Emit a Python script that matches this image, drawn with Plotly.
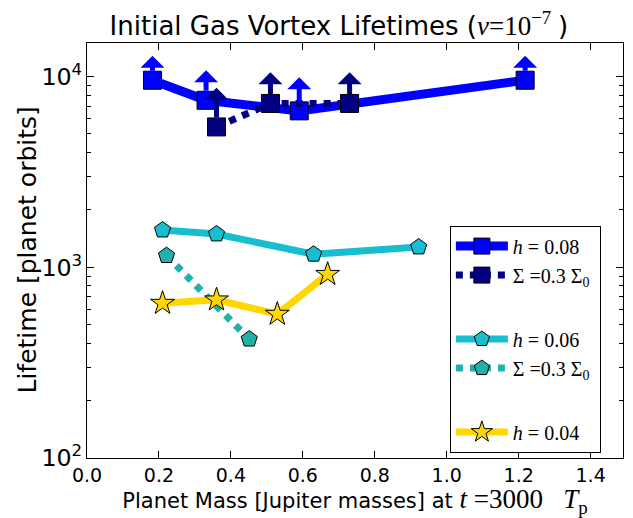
import numpy as np
import plotly.graph_objects as go

# ---------------- data ----------------
mass_h08 = [0.182, 0.331, 0.590, 1.218]
life_h08 = [9570, 7510, 6610, 9570]

mass_h08_low = [0.360, 0.510, 0.730]
life_h08_low = [5445, 7230, 7230]

mass_h06 = [0.210, 0.360, 0.630, 0.922]
life_h06 = [1567, 1494, 1170, 1277]

mass_h06_low = [0.221, 0.451]
life_h06_low = [1151, 420]

mass_h04 = [0.210, 0.360, 0.529, 0.669]
life_h04 = [648, 675, 568, 919]

# lower-limit arrow length (data units, like an errorbar with lolims)
LOWER_LIMIT_ERR = 3300

x_ticks = [0.0, 0.2, 0.4, 0.6, 0.8, 1.0, 1.2, 1.4]

SERIF = "Liberation Serif"
SANS = "DejaVu Sans"
NB = "\u00a0"

fig = go.Figure()

def add(xs, ys, name, color, lw, dash, symbol, msize, group):
    fig.add_trace(go.Scatter(
        x=xs, y=ys, name=name, mode="lines+markers",
        legendgroup=group,
        line=dict(color=color, width=lw, dash=dash),
        marker=dict(symbol=symbol, size=msize, color=color,
                    line=dict(color="black", width=1)),
    ))

add(mass_h08, life_h08, "<i>h</i> = 0.08", "#0000FF", 9, "solid", "square", 18, "g1")
add(mass_h08_low, life_h08_low, "Σ =0.3 Σ<sub>0</sub>" + NB, "#000080", 7, "7px,7px", "square", 18, "g1")
add(mass_h06, life_h06, "<i>h</i> = 0.06", "#17BECF", 7, "solid", "pentagon", 17, "g2")
add(mass_h06_low, life_h06_low, "Σ =0.3 Σ<sub>0</sub>" + NB, "#20B2AA", 7, "7px,7px", "pentagon", 17, "g2")
add(mass_h04, life_h04, "<i>h</i> = 0.04", "#FFD700", 7, "solid", "star", 18, "g3")

annotations = []
for xs, ys, color in [(mass_h08, life_h08, "#0000FF"),
                      (mass_h08_low, life_h08_low, "#000080")]:
    for xv, yv in zip(xs, ys):
        annotations.append(dict(
            x=xv, y=float(np.log10(yv + LOWER_LIMIT_ERR)),
            ax=xv, ay=float(np.log10(yv)),
            xref="x", yref="y", axref="x", ayref="y",
            text="", showarrow=True, arrowhead=1, arrowsize=0.8,
            arrowwidth=5, arrowcolor=color, startstandoff=8, standoff=0))

# y-axis title, placed like the reference (closer to the tick labels)
annotations.append(dict(
    text="Lifetime [planet orbits]", textangle=-90,
    x=0, xref="paper", xanchor="center", xshift=-60,
    y=0.5, yref="paper", yanchor="middle", showarrow=False,
    font=dict(family=SANS, size=25, color="black")))

# the page body adds an 8px offset, so the figure is 8px smaller each way
fig.update_layout(
    width=625, height=510,
    margin=dict(l=79, r=10, t=35, b=60, autoexpand=False),
    paper_bgcolor="white", plot_bgcolor="white",
    title=dict(
        text=("Initial Gas Vortex Lifetimes (<span style='font-family:%s;font-size:27px'>"
              "<i>ν</i>=10<sup>−7</sup>" + NB + "</span>)") % SERIF,
        x=0.47, xanchor="center", xref="paper", y=0.982, yanchor="top",
        font=dict(family=SANS, size=26, color="black")),
    font=dict(family=SANS, color="black"),
    showlegend=True,
    legend=dict(
        x=0.677, y=0.56, xanchor="left", yanchor="top",
        bgcolor="white", bordercolor="black", borderwidth=1,
        font=dict(family=SERIF, size=20, color="black"),
        itemwidth=52, tracegroupgap=35, traceorder="grouped"),
    annotations=annotations,
)

fig.update_xaxes(
    range=[0, 1.49], tickvals=x_ticks, tickformat=".1f",
    ticks="inside", ticklen=7, tickcolor="black", mirror="ticks",
    showline=True, linecolor="black", linewidth=1,
    showgrid=False, zeroline=False, automargin=False,
    tickfont=dict(family=SANS, size=19, color="black"),
    title=dict(text=("Planet Mass [Jupiter masses] at "
                     "<span style='font-family:%s;font-size:27px'><i>t</i>" + NB + "=3000" + NB * 3
                     + "<i>T</i><sub>p</sub></span>") % SERIF,
               font=dict(family=SANS, size=21, color="black"), standoff=3),
)

fig.update_yaxes(
    type="log", range=[2, np.log10(15000)], dtick=1,
    exponentformat="power",
    ticks="inside", ticklen=7, tickcolor="black", mirror="allticks",
    minor=dict(ticks="inside", ticklen=4, tickcolor="black", dtick="D1", showgrid=False),
    showline=True, linecolor="black", linewidth=1,
    showgrid=False, zeroline=False, automargin=False,
    tickfont=dict(family=SANS, size=19, color="black"),
)

fig.write_html("out.html")
